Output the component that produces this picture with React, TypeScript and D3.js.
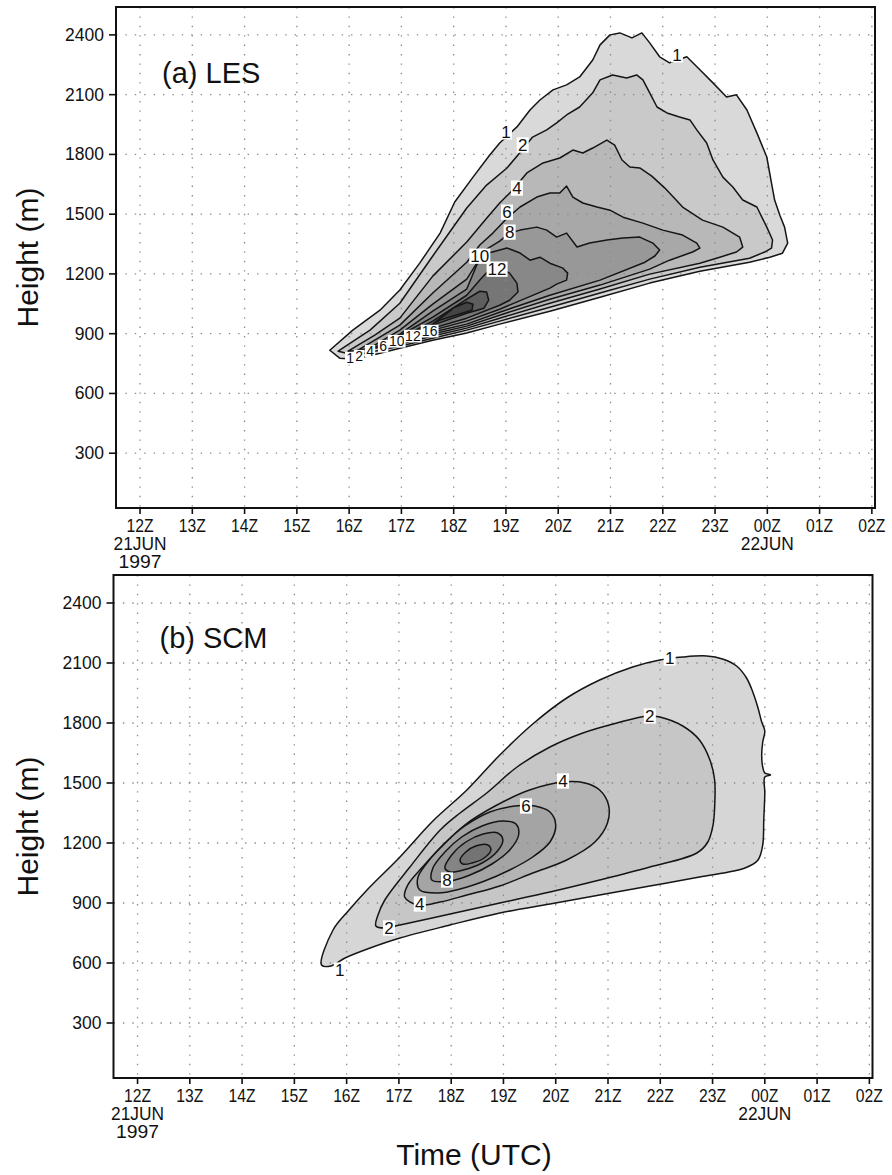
import React from "react";
import * as d3 from "d3";

type Pt = [number, number]; // [hour UTC counted from 00Z 21 Jun, height in m]
type Label = [number, number, string];

// ---- axes -------------------------------------------------------------
const HOUR_TICKS = [12, 13, 14, 15, 16, 17, 18, 19, 20, 21, 22, 23, 24, 25, 26];
const HOUR_LABELS = ["12Z", "13Z", "14Z", "15Z", "16Z", "17Z", "18Z", "19Z", "20Z", "21Z", "22Z", "23Z", "00Z", "01Z", "02Z"];
const DATE_MARKS: [number, string[]][] = [
  [12, ["21JUN", "1997"]],
  [24, ["22JUN"]],
];
const HEIGHT_TICKS = [300, 600, 900, 1200, 1500, 1800, 2100, 2400];
const TIME_DOMAIN: [number, number] = [11.54, 26.06];
const HEIGHT_DOMAIN: [number, number] = [25, 2540];

// ---- (a) LES contours ---------------------------------------------------
const LES_LEVELS = [1, 2, 4, 6, 8, 10, 12, 14, 16];
const LES_SHADES = ["#d9d9d9", "#c9c9c9", "#b8b8b8", "#a8a8a8", "#989898", "#888888", "#767676", "#5e5e5e", "#444444"];

const LES_C1: Pt[] = [[15.63,817],[16.07,918],[16.59,1018],[16.97,1119],[17.35,1254],[17.74,1405],[18.02,1561],[18.37,1686],[18.69,1797],[18.88,1857],[19.21,1938],[19.46,2023],[19.65,2073],[19.90,2124],[20.16,2149],[20.41,2189],[20.66,2274],[20.80,2350],[20.99,2400],[21.18,2410],[21.41,2385],[21.60,2410],[21.75,2360],[21.94,2290],[22.13,2260],[22.46,2290],[22.71,2225],[22.96,2159],[23.22,2088],[23.41,2099],[23.61,2023],[23.80,1908],[23.99,1787],[24.08,1656],[24.14,1571],[24.24,1495],[24.33,1435],[24.39,1355],[24.29,1304],[24.05,1284],[23.66,1259],[22.71,1214],[21.75,1154],[20.80,1083],[19.84,1013],[18.88,948],[18.25,903],[17.60,867],[16.97,827],[16.59,802],[16.11,772],[15.82,777]];
const LES_C2: Pt[] = [[15.79,812],[16.40,918],[16.97,1053],[17.60,1290],[18.25,1531],[18.63,1646],[19.02,1732],[19.23,1797],[19.51,1887],[19.78,1923],[19.97,1958],[20.16,1998],[20.41,2038],[20.66,2109],[20.80,2174],[21.04,2199],[21.31,2184],[21.50,2199],[21.62,2174],[21.75,2109],[21.89,2038],[22.08,2008],[22.32,1988],[22.52,1973],[22.65,1923],[22.84,1857],[22.96,1772],[23.15,1686],[23.34,1636],[23.53,1571],[23.80,1536],[23.99,1435],[24.10,1370],[24.08,1330],[23.95,1310],[23.66,1279],[22.71,1234],[21.75,1174],[20.80,1104],[19.84,1033],[18.88,963],[18.25,918],[17.60,877],[16.97,837],[16.59,817],[16.11,792]];
const LES_C4: Pt[] = [[15.98,812],[16.49,893],[16.97,978],[17.60,1189],[18.25,1360],[18.63,1480],[18.88,1556],[19.13,1621],[19.40,1707],[19.71,1757],[20.03,1782],[20.28,1822],[20.47,1807],[20.66,1832],[20.93,1872],[21.08,1847],[21.22,1772],[21.37,1737],[21.56,1732],[21.79,1691],[22.04,1631],[22.38,1536],[22.76,1470],[23.15,1435],[23.47,1385],[23.53,1335],[23.41,1310],[23.09,1284],[22.71,1254],[21.75,1199],[20.80,1124],[19.84,1053],[18.88,978],[18.25,928],[17.60,888],[16.97,847],[16.49,827],[16.21,817]];
const LES_C6: Pt[] = [[16.17,817],[16.97,943],[17.60,1104],[18.25,1259],[18.50,1345],[18.75,1405],[19.02,1480],[19.27,1536],[19.59,1586],[19.84,1606],[20.03,1606],[20.16,1641],[20.28,1586],[20.47,1556],[20.74,1536],[20.99,1520],[21.24,1485],[21.62,1455],[22.00,1420],[22.38,1395],[22.65,1355],[22.71,1330],[22.57,1310],[22.13,1269],[21.75,1224],[20.80,1144],[19.84,1073],[18.88,993],[18.25,938],[17.60,898],[16.97,857],[16.49,832]];
const LES_C8: Pt[] = [[16.36,822],[16.97,918],[17.60,1048],[18.25,1174],[18.60,1320],[18.88,1365],[19.07,1405],[19.27,1420],[19.59,1435],[19.78,1420],[19.97,1385],[20.16,1405],[20.36,1335],[20.60,1355],[20.93,1370],[21.24,1380],[21.56,1385],[21.81,1355],[21.94,1320],[21.85,1290],[21.66,1259],[20.80,1169],[19.84,1093],[18.88,1008],[18.25,948],[17.60,908],[16.97,867],[16.59,842]];
const LES_C10: Pt[] = [[16.59,847],[16.97,898],[17.60,1013],[18.25,1124],[18.44,1244],[18.60,1300],[19.02,1330],[19.27,1305],[19.46,1269],[19.65,1284],[19.84,1254],[20.09,1229],[20.18,1204],[20.16,1169],[19.97,1149],[19.84,1129],[18.88,1023],[18.25,963],[17.60,918],[16.97,877]];
const LES_C12: Pt[] = [[16.88,877],[17.60,983],[18.25,1093],[18.50,1169],[18.69,1224],[18.88,1229],[19.07,1204],[19.21,1154],[19.23,1109],[19.07,1068],[18.88,1043],[18.25,978],[17.60,928],[17.16,898]];
const LES_C14: Pt[] = [[17.12,898],[17.60,963],[18.25,1073],[18.50,1113],[18.63,1109],[18.67,1068],[18.58,1028],[18.25,1003],[17.60,943],[17.26,908]];
const LES_C16: Pt[] = [[17.32,918],[17.60,948],[18.02,1033],[18.25,1058],[18.37,1048],[18.35,1018],[18.16,1003],[17.74,968],[17.45,928]];

// labels sitting on the contour lines
const LES_LABELS: Label[] = [
  [22.27, 2300, "1"], [19.0, 1913, "1"], [19.32, 1847, "2"], [19.21, 1631, "4"],
  [19.02, 1510, "6"], [19.07, 1410, "8"], [18.5, 1289, "10"], [18.83, 1224, "12"],
];
// crowded labels along the lower edge of the early, shallow part of the layer
const LES_TIP_LABELS: Label[] = [
  [16.02, 777, "1"], [16.19, 787, "2"], [16.4, 812, "4"], [16.65, 837, "6"],
  [16.91, 862, "10"], [17.22, 888, "12"], [17.54, 913, "16"],
];

// ---- (b) SCM contours ---------------------------------------------------
const SCM_LEVELS = [1, 2, 4, 6, 8, 10, 12];
const SCM_SHADES = ["#d6d6d6", "#c6c6c6", "#b4b4b4", "#a4a4a4", "#949494", "#848484", "#747474"];

const SCM_C1: Pt[] = [[15.52,590],[15.74,765],[16.03,860],[16.39,965],[17.02,1130],[17.65,1310],[18.30,1465],[18.93,1640],[19.56,1795],[20.21,1925],[20.84,2015],[21.47,2080],[21.99,2115],[22.43,2130],[22.89,2135],[23.19,2120],[23.46,2085],[23.65,2025],[23.77,1955],[23.87,1875],[23.94,1805],[24.00,1760],[23.96,1705],[23.94,1640],[23.96,1580],[24.00,1550],[24.11,1540],[24.00,1530],[24.00,1450],[23.98,1315],[23.96,1190],[23.87,1115],[23.62,1075],[22.75,1030],[21.80,985],[20.84,940],[19.89,895],[18.93,850],[17.98,790],[17.02,725],[16.45,675],[15.97,625],[15.70,585]];
const SCM_C2: Pt[] = [[16.56,785],[16.60,840],[16.73,915],[17.21,1080],[17.79,1265],[18.17,1350],[18.68,1450],[19.26,1580],[19.89,1680],[20.52,1750],[21.17,1800],[21.76,1835],[21.99,1830],[22.43,1785],[22.75,1715],[22.95,1615],[23.04,1515],[23.04,1380],[23.01,1290],[22.91,1205],[22.70,1150],[21.80,1080],[20.84,1015],[19.89,955],[18.93,900],[17.98,845],[17.02,790],[16.73,775]];
const SCM_C4: Pt[] = [[17.11,930],[17.17,990],[17.40,1065],[17.79,1175],[18.26,1290],[18.84,1385],[19.50,1465],[20.14,1505],[20.56,1500],[20.84,1465],[21.01,1390],[20.99,1300],[20.75,1205],[20.21,1115],[19.56,1050],[18.93,985],[18.30,940],[17.79,905],[17.36,890]];
const SCM_C6: Pt[] = [[17.40,965],[17.36,1025],[17.55,1105],[17.88,1200],[18.26,1285],[18.74,1355],[19.22,1385],[19.60,1385],[19.89,1355],[20.00,1290],[19.89,1205],[19.56,1130],[19.12,1065],[18.64,1010],[18.17,970],[17.75,950]];
const SCM_C8: Pt[] = [[17.63,1015],[17.65,1075],[17.88,1155],[18.20,1230],[18.59,1285],[18.99,1310],[19.24,1295],[19.29,1240],[19.12,1165],[18.78,1095],[18.36,1040],[17.98,1010]];
const SCM_C10: Pt[] = [[17.88,1075],[18.01,1140],[18.28,1205],[18.61,1245],[18.89,1250],[18.99,1215],[18.87,1155],[18.59,1100],[18.23,1065],[17.98,1055]];
const SCM_C12: Pt[] = [[18.17,1115],[18.28,1155],[18.47,1185],[18.70,1190],[18.76,1165],[18.63,1125],[18.40,1100],[18.22,1095]];

const SCM_LABELS: Label[] = [
  [22.18, 2125, "1"], [21.8, 1835, "2"], [20.14, 1510, "4"], [19.43, 1385, "6"],
  [17.92, 1015, "8"], [17.4, 895, "4"], [16.81, 775, "2"], [15.87, 565, "1"],
];

const LES_CONTOURS = [LES_C1, LES_C2, LES_C4, LES_C6, LES_C8, LES_C10, LES_C12, LES_C14, LES_C16];
const SCM_CONTOURS = [SCM_C1, SCM_C2, SCM_C4, SCM_C6, SCM_C8, SCM_C10, SCM_C12];

const SANS = "'Liberation Sans', Arial, Helvetica, sans-serif";

interface Frame { x0: number; x1: number; y0: number; y1: number }

interface PanelProps {
  frame: Frame;
  title: string;
  titleY: number;
  levels: number[];
  shades: string[];
  contours: Pt[][];
  labels: Label[];
  smallLabels: Label[];
  smooth: boolean;
}

function Panel({ frame, title, titleY, levels, shades, contours, labels, smallLabels, smooth }: PanelProps) {
  const { x0, x1, y0, y1 } = frame;
  const x = d3.scaleLinear().domain(TIME_DOMAIN).range([x0, x1]);
  const y = d3.scaleLinear().domain(HEIGHT_DOMAIN).range([y1, y0]);
  const line = d3
    .line<Pt>()
    .x((d) => x(d[0]))
    .y((d) => y(d[1]))
    .curve(smooth ? d3.curveCatmullRomClosed.alpha(0.5) : d3.curveLinearClosed);
  const clipId = `clip-${title.replace(/\W/g, "")}`;

  const drawLabel = (lab: Label, i: number, size: number, key: string) => {
    const [h, m, t] = lab;
    const cw = size * 0.53;
    const w = t.length * cw + 3;
    const bh = size * 0.9;
    return (
      <g key={`${key}${i}`}>
        <rect x={x(h) - w / 2} y={y(m) - bh / 2} width={w} height={bh} fill="#ffffff" />
        <text x={x(h)} y={y(m) + size * 0.36} textAnchor="middle" fontFamily={SANS} fontSize={size} fill="#111">
          {t}
        </text>
      </g>
    );
  };

  return (
    <g>
      <defs>
        <clipPath id={clipId}>
          <rect x={x0} y={y0} width={x1 - x0} height={y1 - y0} />
        </clipPath>
      </defs>
      <g clipPath={`url(#${clipId})`}>
        {contours.map((pts, i) => (
          <path key={`f${levels[i]}`} d={line(pts) ?? ""} fill={shades[i]} stroke="none" />
        ))}
        {HOUR_TICKS.map((h) => (
          <line key={`gx${h}`} x1={x(h)} x2={x(h)} y1={y0} y2={y1} stroke="#8a8a8a" strokeWidth={1.3} strokeDasharray="1.4 8" />
        ))}
        {HEIGHT_TICKS.map((m) => (
          <line key={`gy${m}`} x1={x0} x2={x1} y1={y(m)} y2={y(m)} stroke="#8a8a8a" strokeWidth={1.3} strokeDasharray="1.4 8" />
        ))}
        {contours.map((pts, i) => (
          <path key={`c${levels[i]}`} d={line(pts) ?? ""} fill="none" stroke="#151515" strokeWidth={1.5} strokeLinejoin="round" />
        ))}
        {labels.map((lab, i) => drawLabel(lab, i, 17, "l"))}
        {smallLabels.map((lab, i) => drawLabel(lab, i, 14, "s"))}
      </g>

      <rect x={x0} y={y0} width={x1 - x0} height={y1 - y0} fill="none" stroke="#111" strokeWidth={2} />

      {HEIGHT_TICKS.map((m) => (
        <g key={`ty${m}`}>
          <line x1={x0 - 7} x2={x0} y1={y(m)} y2={y(m)} stroke="#111" strokeWidth={1.6} />
          <text x={x0 - 12} y={y(m) + 6} textAnchor="end" fontFamily={SANS} fontSize={17.5} fill="#111">
            {m}
          </text>
        </g>
      ))}

      {HOUR_TICKS.map((h, i) => (
        <g key={`tx${h}`}>
          <line x1={x(h)} x2={x(h)} y1={y1} y2={y1 + 6} stroke="#111" strokeWidth={1.6} />
          <text x={x(h)} y={y1 + 24} textAnchor="middle" fontFamily={SANS} fontSize={18} fill="#111" textLength={27} lengthAdjust="spacingAndGlyphs">
            {HOUR_LABELS[i]}
          </text>
        </g>
      ))}
      {DATE_MARKS.map(([h, rows]) =>
        rows.map((r, j) => (
          <text key={`d${h}${j}`} x={x(h)} y={y1 + 42 + j * 18} textAnchor="middle" fontFamily={SANS} fontSize={18} fill="#111" textLength={r.length > 4 ? 53 : 43} lengthAdjust="spacingAndGlyphs">
            {r}
          </text>
        ))
      )}

      <text x={x0 + 46} y={titleY} fontFamily={SANS} fontSize={29} fill="#111">
        {title}
      </text>
      <text
        transform={`translate(${38},${(y0 + y1) / 2}) rotate(-90)`}
        textAnchor="middle"
        fontFamily={SANS}
        fontSize={30}
        fill="#111"
      >
        Height (m)
      </text>
    </g>
  );
}

export default function App() {
  return (
    <svg
      width={892}
      height={1175}
      viewBox="0 0 892 1175"
      style={{ position: "absolute", left: 0, top: 0, background: "#fff" }}
    >
      <rect width={892} height={1175} fill="#fff" />
      <Panel
        frame={{ x0: 116, x1: 875, y0: 7, y1: 508 }}
        title="(a) LES"
        titleY={83}
        levels={LES_LEVELS}
        shades={LES_SHADES}
        contours={LES_CONTOURS}
        labels={LES_LABELS}
        smallLabels={LES_TIP_LABELS}
        smooth={false}
      />
      <Panel
        frame={{ x0: 113.5, x1: 872.5, y0: 575, y1: 1078 }}
        title="(b) SCM"
        titleY={648}
        levels={SCM_LEVELS}
        shades={SCM_SHADES}
        contours={SCM_CONTOURS}
        labels={SCM_LABELS}
        smallLabels={[]}
        smooth={true}
      />
      <text x={474} y={1165} textAnchor="middle" fontFamily={SANS} fontSize={30} fill="#111">
        Time (UTC)
      </text>
    </svg>
  );
}
